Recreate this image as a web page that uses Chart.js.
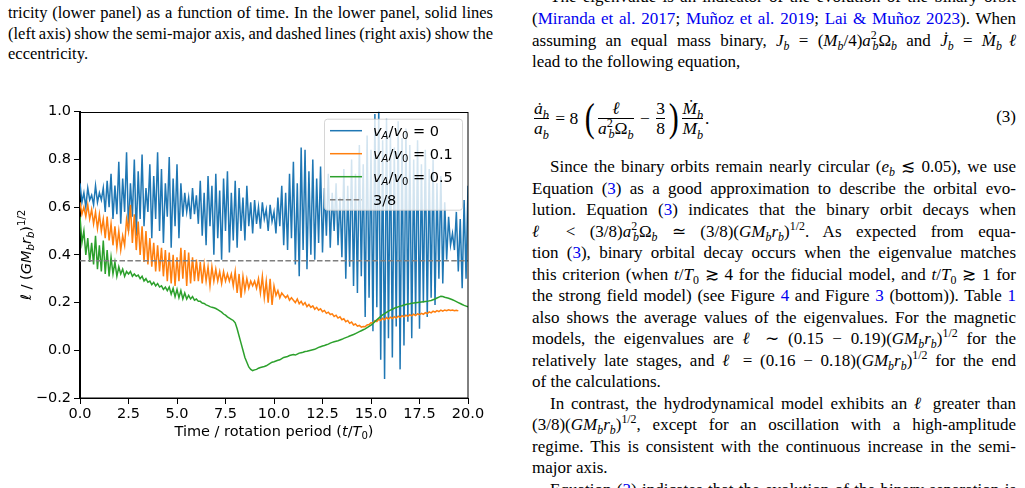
<!DOCTYPE html>
<html>
<head>
<meta charset="utf-8">
<script src="https://cdn.jsdelivr.net/npm/chart.js@4.4.0/dist/chart.umd.min.js"></script>
<style>
html, body { margin: 0; padding: 0; background: #fff; }
body { width: 1025px; height: 488px; overflow: hidden; position: relative; font-family: 'Liberation Serif', 'Times New Roman', serif; color: #000; }
.ln { position: absolute; height: 21.5px; line-height: 21.5px; font-size: 17px; }
.lc { left: 8px; width: 485px; font-size: 16.5px; height: 20.5px; line-height: 20.5px; }
.rc { left: 532px; width: 484px; }
.j { text-align: justify; text-align-last: justify; word-spacing: -2px; }
.ind { text-indent: 18px; }
a { color: #0000f0; text-decoration: none; }
sub, sup { font-size: 0.7em; line-height: 0; }
.bk { margin-left: -0.36em; }
#eq { position: absolute; left: 532px; top: 95px; height: 46px; display: flex; align-items: center; font-size: 17.5px; }
.frac { display: inline-flex; flex-direction: column; align-items: center; line-height: 19px; margin: 0 2px; }
.frac > span + span { border-top: 1px solid #000; }
.big { display: inline-block; font-size: 40px; line-height: 46px; transform: scaleX(0.75); }
#eqn { position: absolute; left: 980px; width: 36px; top: 107px; text-align: right; font-size: 17px; }
#chart { position: absolute; left: 0; top: 100px; }
</style>
</head>
<body>

<div class="ln lc j" style="top:3px">tricity (lower panel) as a function of time. In the lower panel, solid lines</div>
<div class="ln lc j" style="top:24px">(left axis) show the semi-major axis, and dashed lines (right axis) show the</div>
<div class="ln lc" style="top:44px">eccentricity.</div>

<div class="ln rc j ind" style="top:-14px">The eigenvalue is an indicator of the evolution of the binary orbit</div>
<div class="ln rc j" style="top:8px">(<a>Miranda et al. 2017</a>; <a>Muñoz et al. 2019</a>; <a>Lai &amp; Muñoz 2023</a>). When</div>
<div class="ln rc j" style="top:30px">assuming an equal mass binary, <i>J<sub>b</sub></i> = (<i>M<sub>b</sub></i>/4)<i>a</i><sup>2</sup><sub class="bk"><i>b</i></sub>Ω<sub><i>b</i></sub> and <i>J̇<sub>b</sub></i> = <i>Ṁ<sub>b</sub>ℓ</i></div>
<div class="ln rc" style="top:51px">lead to the following equation,</div>

<div id="eq">
  <span class="frac"><span><i>ȧ<sub>b</sub></i></span><span><i>a<sub>b</sub></i></span></span>
  <span>&nbsp;=&nbsp;8&nbsp;</span>
  <span class="big">(</span>
  <span class="frac"><span><i>ℓ</i></span><span><i>a</i><sup>2</sup><sub class="bk"><i>b</i></sub>Ω<sub><i>b</i></sub></span></span>
  <span>&nbsp;−&nbsp;</span>
  <span class="frac"><span>3</span><span>8</span></span>
  <span class="big">)</span>
  <span class="frac"><span><i>Ṁ<sub>b</sub></i></span><span><i>M<sub>b</sub></i></span></span>
  <span>.</span>
</div>
<div id="eqn">(3)</div>

<div class="ln rc j ind" style="top:156px">Since the binary orbits remain nearly circular (<i>e<sub>b</sub></i> ≲ 0.05), we use</div>
<div class="ln rc j" style="top:178px">Equation (<a>3</a>) as a good approximation to describe the orbital evo-</div>
<div class="ln rc j" style="top:199px">lution. Equation (<a>3</a>) indicates that the binary orbit decays when</div>
<div class="ln rc j" style="top:221px"><i>ℓ</i> &lt; (3/8)<i>a</i><sup>2</sup><sub class="bk"><i>b</i></sub>Ω<sub><i>b</i></sub> ≃ (3/8)(<i>GM<sub>b</sub>r<sub>b</sub></i>)<sup>1/2</sup>. As expected from equa-</div>
<div class="ln rc j" style="top:242px">tion (<a>3</a>), binary orbital decay occurs when the eigenvalue matches</div>
<div class="ln rc j" style="top:264px">this criterion (when <i>t</i>/<i>T</i><sub>0</sub> ≳ 4 for the fiducial model, and <i>t</i>/<i>T</i><sub>0</sub> ≳ 1 for</div>
<div class="ln rc j" style="top:285px">the strong field model) (see Figure <a>4</a> and Figure <a>3</a> (bottom)). Table <a>1</a></div>
<div class="ln rc j" style="top:307px">also shows the average values of the eigenvalues. For the magnetic</div>
<div class="ln rc j" style="top:328px">models, the eigenvalues are <i>ℓ</i> ∼ (0.15 − 0.19)(<i>GM<sub>b</sub>r<sub>b</sub></i>)<sup>1/2</sup> for the</div>
<div class="ln rc j" style="top:350px">relatively late stages, and <i>ℓ</i> = (0.16 − 0.18)(<i>GM<sub>b</sub>r<sub>b</sub></i>)<sup>1/2</sup> for the end</div>
<div class="ln rc" style="top:371px">of the calculations.</div>
<div class="ln rc j ind" style="top:393px">In contrast, the hydrodynamical model exhibits an <i>ℓ</i> greater than</div>
<div class="ln rc j" style="top:414px">(3/8)(<i>GM<sub>b</sub>r<sub>b</sub></i>)<sup>1/2</sup>, except for an oscillation with a high-amplitude</div>
<div class="ln rc j" style="top:436px">regime. This is consistent with the continuous increase in the semi-</div>
<div class="ln rc" style="top:457px">major axis.</div>
<div class="ln rc j ind" style="top:479px">Equation (<a>3</a>) indicates that the evolution of the binary separation is</div>

<canvas id="chart" width="500" height="345"></canvas>

<script>
// time / rotation period (t/T0)
var time = [
  0,0.1,0.2,0.3,0.4,0.5,0.6,0.7,0.8,0.9,
  1,1.1,1.2,1.3,1.4,1.5,1.6,1.7,1.8,1.9,
  2,2.1,2.2,2.3,2.4,2.5,2.6,2.7,2.8,2.9,
  3,3.1,3.2,3.3,3.4,3.5,3.6,3.7,3.8,3.9,
  4,4.1,4.2,4.3,4.4,4.5,4.6,4.7,4.8,4.9,
  5,5.1,5.2,5.3,5.4,5.5,5.6,5.7,5.8,5.9,
  6,6.1,6.2,6.3,6.4,6.5,6.6,6.7,6.8,6.9,
  7,7.1,7.2,7.3,7.4,7.5,7.6,7.7,7.8,7.9,
  8,8.1,8.2,8.3,8.4,8.5,8.6,8.7,8.8,8.9,
  9,9.1,9.2,9.3,9.4,9.5,9.6,9.7,9.8,9.9,
  10,10.1,10.2,10.3,10.4,10.5,10.6,10.7,10.8,10.9,
  11,11.1,11.2,11.3,11.4,11.5,11.6,11.7,11.8,11.9,
  12,12.1,12.2,12.3,12.4,12.5,12.6,12.7,12.8,12.9,
  13,13.1,13.2,13.3,13.4,13.5,13.6,13.7,13.8,13.9,
  14,14.1,14.2,14.3,14.4,14.5,14.6,14.7,14.8,14.9,
  15,15.1,15.2,15.3,15.4,15.5,15.6,15.7,15.8,15.9,
  16,16.1,16.2,16.3,16.4,16.5,16.6,16.7,16.8,16.9,
  17,17.1,17.2,17.3,17.4,17.5,17.6,17.7,17.8,17.9,
  18,18.1,18.2,18.3,18.4,18.5,18.6,18.7,18.8,18.9,
  19,19.1,19.2,19.3,19.4,19.5,19.6,19.7,19.8,19.9,
  20
];

// v_A/v_0 = 0 (hydro)
var ellHydro = [
  0.70,0.62,0.66,0.60,0.68,0.63,0.65,0.61,0.69,0.62,
  0.66,0.63,0.68,0.58,0.71,0.60,0.74,0.55,0.69,0.57,
  0.79,0.53,0.72,0.58,0.83,0.50,0.70,0.56,0.80,0.48,
  0.75,0.55,0.82,0.52,0.68,0.58,0.78,0.47,0.73,0.55,
  0.83,0.50,0.76,0.45,0.70,0.56,0.81,0.43,0.72,0.52,
  0.78,0.47,0.70,0.56,0.66,0.58,0.64,0.55,0.68,0.57,
  0.65,0.53,0.71,0.48,0.66,0.44,0.73,0.52,0.69,0.40,
  0.74,0.47,0.67,0.38,0.72,0.50,0.75,0.41,0.66,0.46,
  0.71,0.43,0.68,0.50,0.64,0.46,0.69,0.52,0.62,0.49,
  0.63,0.53,0.60,0.51,0.62,0.55,0.59,0.50,0.61,0.54,
  0.58,0.49,0.64,0.52,0.69,0.44,0.66,0.42,0.74,0.47,
  0.79,0.36,0.70,0.31,0.85,0.42,0.84,0.34,0.75,0.40,
  0.80,0.38,0.72,0.45,0.77,0.41,0.68,0.48,0.74,0.43,
  0.66,0.50,0.70,0.44,0.64,0.39,0.76,0.30,0.69,0.35,
  0.80,0.27,0.74,0.24,0.86,0.31,0.78,0.14,0.90,0.22,
  0.84,0.08,0.99,0.18,1.02,-0.04,0.88,-0.12,0.97,0.05,
  0.92,-0.03,0.85,0.10,0.96,-0.08,0.89,0.02,0.93,0.12,
  0.86,0.05,0.80,0.15,0.88,0.09,0.78,0.20,0.84,0.14,
  0.76,0.22,0.80,0.19,0.70,0.30,0.73,0.28,0.62,0.38,
  0.56,0.44,0.49,0.42,0.58,0.33,0.55,0.26,0.63,0.30,
  0.69
];

// v_A/v_0 = 0.1 (fiducial)
var ellWeak = [
  0.62,0.57,0.60,0.56,0.61,0.55,0.59,0.53,0.58,0.51,
  0.57,0.50,0.55,0.47,0.56,0.46,0.53,0.44,0.52,0.43,
  0.50,0.42,0.48,0.44,0.55,0.50,0.61,0.45,0.57,0.42,
  0.54,0.40,0.52,0.37,0.50,0.36,0.47,0.35,0.45,0.33,
  0.44,0.33,0.43,0.31,0.42,0.29,0.41,0.28,0.40,0.27,
  0.39,0.29,0.43,0.30,0.42,0.27,0.41,0.28,0.39,0.29,
  0.38,0.29,0.37,0.28,0.36,0.29,0.35,0.27,0.35,0.29,
  0.34,0.29,0.33,0.28,0.33,0.29,0.32,0.29,0.32,0.27,
  0.33,0.24,0.32,0.22,0.31,0.25,0.30,0.26,0.29,0.27,
  0.29,0.26,0.30,0.24,0.31,0.22,0.29,0.20,0.30,0.19,
  0.27,0.23,0.25,0.22,0.24,0.23,0.22,0.23,0.21,0.22,
  0.21,0.20,0.215,0.195,0.205,0.19,0.20,0.183,0.192,0.18,
  0.186,0.172,0.18,0.168,0.174,0.162,0.167,0.155,0.16,0.15,
  0.153,0.142,0.147,0.135,0.14,0.128,0.132,0.12,0.125,0.113,
  0.118,0.106,0.11,0.101,0.104,0.097,0.10,0.099,0.106,0.108,
  0.115,0.114,0.124,0.12,0.13,0.125,0.134,0.128,0.137,0.131,
  0.139,0.133,0.141,0.135,0.143,0.138,0.145,0.14,0.147,0.142,
  0.149,0.144,0.151,0.146,0.153,0.149,0.155,0.151,0.158,0.154,
  0.161,0.157,0.164,0.16,0.166,0.162,0.168,0.164,0.169,0.166,
  0.170,0.167,0.169,0.166,0.168,0.165,null,null,null,null,
  null
];

// v_A/v_0 = 0.5 (strong field)
var ellStrong = [
  0.56,0.45,0.50,0.40,0.47,0.37,0.45,0.36,0.48,0.34,
  0.44,0.33,0.46,0.32,0.42,0.31,0.39,0.32,0.37,0.31,
  0.35,0.32,0.34,0.31,0.33,0.32,0.33,0.31,0.32,0.31,
  0.315,0.30,0.31,0.29,0.30,0.285,0.29,0.275,0.285,0.27,
  0.28,0.265,0.27,0.255,0.265,0.25,0.265,0.235,0.26,0.225,
  0.255,0.22,0.25,0.215,0.24,0.215,0.23,0.215,0.225,0.21,
  0.215,0.205,0.205,0.198,0.196,0.19,0.187,0.183,0.18,0.178,
  0.175,0.17,0.165,0.16,0.152,0.147,0.14,0.135,0.13,0.125,
  0.115,0.09,0.06,0.03,0.0,-0.03,-0.05,-0.07,-0.08,-0.085,
  -0.082,-0.08,-0.075,-0.072,-0.07,-0.068,-0.065,-0.06,-0.055,-0.05,
  -0.048,-0.045,-0.042,-0.04,-0.035,-0.03,-0.028,-0.026,-0.022,-0.02,
  -0.018,-0.02,-0.016,-0.012,-0.01,-0.008,-0.005,-0.004,-0.002,0.0,
  0.002,0.004,0.008,0.012,0.015,0.018,0.02,0.023,0.026,0.03,
  0.033,0.036,0.038,0.04,0.043,0.046,0.05,0.053,0.056,0.06,
  0.063,0.066,0.07,0.074,0.078,0.082,0.086,0.09,0.095,0.10,
  0.105,0.112,0.12,0.128,0.135,0.142,0.148,0.154,0.159,0.164,
  0.168,0.172,0.176,0.179,0.182,0.185,0.187,0.19,0.192,0.194,
  0.195,0.197,0.198,0.199,0.2,0.201,0.202,0.203,0.204,0.205,
  0.207,0.209,0.212,0.215,0.219,0.223,0.226,0.225,0.222,0.22,
  0.218,0.215,0.212,0.208,0.204,0.2,0.196,0.192,0.188,0.185,
  0.182
];

var alfvenRatios = ['0', '0.1', '0.5'];
var seriesColors = ['#1f77b4', '#ff7f0e', '#2ca02c'];
var critLevel = 0.375;   // 3/8
var critLabel = '3/8';

function toPoints(ys) {
    var pts = [];
    for (var i = 0; i < time.length; i++) {
        if (ys[i] !== null) pts.push({x: time[i], y: ys[i]});
    }
    return pts;
}

// mathtext-ish drawing: parts with italic / sub / sup
var MATH_FONT = '"DejaVu Sans"';
function partFont(p, size) {
    var s = (p.sub || p.sup) ? size * 0.7 : size;
    return (p.it ? 'italic ' : '') + s + 'px ' + MATH_FONT;
}
function richWidth(ctx, parts, size) {
    var w = 0;
    parts.forEach(function(p) { ctx.font = partFont(p, size); w += ctx.measureText(p.s).width; });
    return w;
}
function drawRich(ctx, parts, x, y, size, align) {
    var cx = align === 'center' ? x - richWidth(ctx, parts, size) / 2 : x;
    ctx.textAlign = 'left';
    ctx.textBaseline = 'alphabetic';
    parts.forEach(function(p) {
        ctx.font = partFont(p, size);
        var dy = p.sub ? size * 0.22 : (p.sup ? -size * 0.42 : 0);
        ctx.fillText(p.s, cx, y + dy);
        cx += ctx.measureText(p.s).width;
    });
}
function alfvenLabel(r) {
    return [{s: 'v', it: 1}, {s: 'A', it: 1, sub: 1}, {s: '/'}, {s: 'v', it: 1}, {s: '0', sub: 1}, {s: ' = ' + r}];
}

var FS = 14.5;

var framePlugin = {
    id: 'frameAndLegend',
    afterDatasetsDraw: function(chart) {
        var ctx = chart.ctx, ca = chart.chartArea;
        ctx.save();
        // spines
        ctx.strokeStyle = '#000';
        ctx.lineWidth = 1;
        ctx.strokeRect(Math.round(ca.left) - 0.5, Math.round(ca.top) + 0.5, Math.round(ca.right - ca.left) + 0.5, Math.round(ca.bottom - ca.top) - 0.5);

        // legend box (upper right, semi transparent like matplotlib)
        var bx = ca.right - 144, by = ca.top + 7, bw = 138, bh = 91;
        ctx.beginPath();
        ctx.roundRect(bx + 0.5, by + 0.5, bw, bh, 3);
        ctx.fillStyle = 'rgba(255,255,255,0.8)';
        ctx.fill();
        ctx.strokeStyle = 'rgba(204,204,204,0.8)';
        ctx.stroke();

        var rows = [];
        for (var k = 0; k < alfvenRatios.length; k++) rows.push({parts: alfvenLabel(alfvenRatios[k]), color: seriesColors[k], dash: []});
        rows.push({parts: [{s: critLabel}], color: '#7f7f7f', dash: [5.5, 2.4]});
        rows.forEach(function(r, k) {
            var yy = by + 12 + k * 23;
            ctx.beginPath();
            ctx.setLineDash(r.dash);
            ctx.strokeStyle = r.color;
            ctx.lineWidth = 1.5;
            ctx.moveTo(bx + 6, yy);
            ctx.lineTo(bx + 38, yy);
            ctx.stroke();
            ctx.setLineDash([]);
            ctx.fillStyle = '#000';
            drawRich(ctx, r.parts, bx + 49, yy + 5, FS, 'left');
        });
        ctx.restore();
    },
    afterDraw: function(chart) {
        var ctx = chart.ctx, ca = chart.chartArea;
        ctx.save();
        ctx.fillStyle = '#000';
        // x axis title
        drawRich(ctx, [{s: 'Time / rotation period ('}, {s: 't', it: 1}, {s: '/'}, {s: 'T', it: 1}, {s: '0', sub: 1}, {s: ')'}],
            (ca.left + ca.right) / 2, ca.bottom + 38, FS, 'center');
        // y axis title
        ctx.translate(31, (ca.top + ca.bottom) / 2);
        ctx.rotate(-Math.PI / 2);
        drawRich(ctx, [{s: 'ℓ', it: 1}, {s: ' / ('}, {s: 'GM', it: 1}, {s: 'b', it: 1, sub: 1}, {s: 'r', it: 1}, {s: 'b', it: 1, sub: 1}, {s: ')'}, {s: '1/2', sup: 1}],
            0, 0, FS, 'center');
        ctx.restore();
    }
};

var datasets = [];
var series = [ellHydro, ellWeak, ellStrong];
for (var s = 0; s < series.length; s++) {
    datasets.push({
        data: toPoints(series[s]),
        borderColor: seriesColors[s],
        borderWidth: 1.5,
        order: 4 - s
    });
}
datasets.push({
    data: [{x: time[0], y: critLevel}, {x: time[time.length - 1], y: critLevel}],
    borderColor: '#7f7f7f',
    borderWidth: 1.5,
    borderDash: [5.5, 2.4],
    order: 1
});

var tickFont = {family: 'DejaVu Sans', size: FS};

new Chart(document.getElementById('chart'), {
    type: 'line',
    data: {datasets: datasets},
    options: {
        responsive: false,
        animation: false,
        layout: {padding: {top: 10, right: 32, left: 0, bottom: 0}},
        plugins: {legend: {display: false}, tooltip: {enabled: false}},
        elements: {point: {radius: 0}, line: {tension: 0}},
        scales: {
            x: {
                type: 'linear', min: 0, max: 20,
                ticks: {stepSize: 2.5, color: '#000', font: tickFont, padding: 2, maxRotation: 0, autoSkip: false,
                    callback: function(v) { return v.toFixed(1); }},
                grid: {display: true, drawOnChartArea: false, drawTicks: true, tickLength: 6, tickColor: '#000', tickWidth: 1},
                border: {display: true, color: '#000', width: 1},
                afterFit: function(sc) { sc.height = 47; }
            },
            y: {
                type: 'linear', min: -0.2, max: 1.0,
                ticks: {stepSize: 0.2, color: '#000', font: tickFont, padding: 3,
                    callback: function(v) { return Math.abs(v) < 1e-9 ? '0.0' : v.toFixed(1).replace('-', '\u2212'); }},
                grid: {display: true, drawOnChartArea: false, drawTicks: true, tickLength: 6, tickColor: '#000', tickWidth: 1},
                border: {display: true, color: '#000', width: 1},
                afterFit: function(sc) { sc.width = 80; }
            }
        }
    },
    plugins: [framePlugin]
});
</script>
</body>
</html>
